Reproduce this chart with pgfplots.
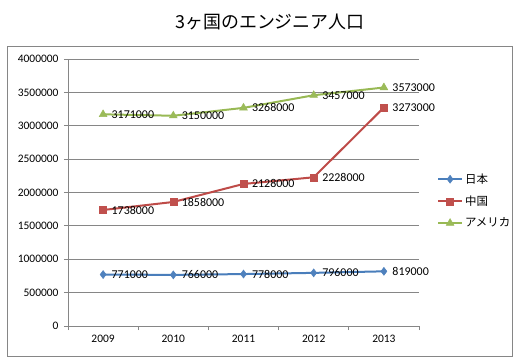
\documentclass[border=0pt]{standalone}
\usepackage{pgfplots}
\pgfplotsset{compat=1.18}
\usepackage{fontspec}
\setmainfont{Carlito}
\newfontfamily\jp{Noto Sans CJK JP}
\definecolor{axgray}{HTML}{868686}
\definecolor{jpblue}{HTML}{4A7EBB}
\definecolor{jpbluef}{HTML}{4F81BD}
\definecolor{cnred}{HTML}{BE4B48}
\definecolor{cnredf}{HTML}{C0504D}
\definecolor{usgreen}{HTML}{98B954}
\definecolor{usgreenf}{HTML}{9BBB59}
\begin{document}
\begin{tikzpicture}
\useasboundingbox (-68bp,-31bp) rectangle (458bp,326bp);
\draw[axgray, line width=0.75bp] (-61bp,-30bp) rectangle (444bp,280bp);
\node[font=\jp\fontsize{18}{18}\selectfont] at (202bp,304bp) {3ヶ国のエンジニア人口};
\begin{axis}[
  at={(0,0)}, anchor=south west,
  scale only axis, width=351bp, height=267bp,
  xmin=-0.5, xmax=4.5, ymin=0, ymax=4000000,
  axis x line*=bottom, axis y line*=left,
  axis line style={axgray, line width=0.75bp, -},
  xtick={-0.5,0.5,1.5,2.5,3.5,4.5},
  x tick label as interval,
  xticklabels={2009,2010,2011,2012,2013},
  ytick={0,500000,1000000,1500000,2000000,2500000,3000000,3500000,4000000},
  yticklabels={0,500000,1000000,1500000,2000000,2500000,3000000,3500000,4000000},
  scaled y ticks=false,
  tick align=outside, major tick length=4bp,
  tick style={axgray, line width=0.75bp},
  ymajorgrids, grid style={axgray, line width=0.75bp},
  ticklabel style={font=\fontsize{11.5}{12}\selectfont},
  yticklabel style={xshift=-2bp},
  xticklabel style={yshift=-2bp},
  point meta=explicit symbolic,
  nodes near coords,
  every node near coord/.append style={anchor=west, xshift=5bp, yshift=0bp, font=\fontsize{12}{12}\selectfont, text=black},
  legend style={draw=none, fill=none, at={(1.051,0.468)}, anchor=west, font=\jp\fontsize{11.5}{12}\selectfont, row sep=7bp, inner sep=0pt, cells={anchor=west}},
  legend image code/.code={
    \draw[#1, mark repeat=2, mark phase=2] plot coordinates {(0bp,0bp) (12bp,0bp) (24bp,0bp)};
  },
  clip=false,
]
\addplot[jpblue, line width=2bp, mark=diamond*, mark size=4bp, mark options={fill=jpbluef, draw=jpbluef, line width=0.5bp}]
  coordinates {(0,771000)[771000] (1,766000)[766000] (2,778000)[778000] (3,796000)[796000] (4,819000)[819000]};
\addlegendentry{日本}
\addplot[cnred, line width=2bp, mark=square*, mark size=3.5bp, mark options={fill=cnredf, draw=cnredf, line width=0.5bp}]
  coordinates {(0,1738000)[1738000] (1,1858000)[1858000] (2,2128000)[2128000] (3,2228000)[2228000] (4,3273000)[3273000]};
\addlegendentry{中国}
\addplot[usgreen, line width=2bp, mark=triangle*, mark size=4.5bp, mark options={fill=usgreenf, draw=usgreenf, line width=0.5bp}]
  coordinates {(0,3171000)[3171000] (1,3150000)[3150000] (2,3268000)[3268000] (3,3457000)[3457000] (4,3573000)[3573000]};
\addlegendentry{アメリカ}
\end{axis}
\end{tikzpicture}
\end{document}
